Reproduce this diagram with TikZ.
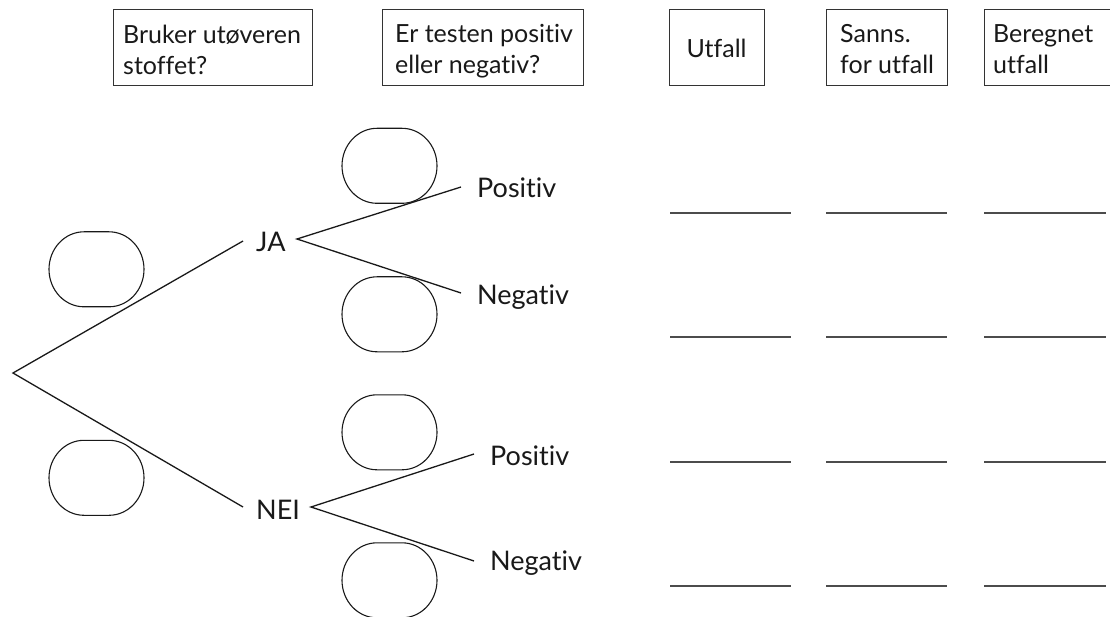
\documentclass[tikz,border=0pt]{standalone}
\usepackage{fontspec}
\setmainfont{Lato}[Ligatures={NoCommon,NoRare}]
\begin{document}
\begin{tikzpicture}[x=1pt,y=-1pt,
  hbox/.style={draw=black!80, line width=1.1pt, inner sep=0pt, anchor=north west},
  htext/.style={font=\fontsize{25}{31}\selectfont, inner sep=0pt, align=left, anchor=north west, text=black!90},
  lbl/.style={font=\fontsize{27}{32}\selectfont, inner sep=0pt, anchor=base west, text=black!90},
  oval/.style={minimum width=95pt, minimum height=75pt, inner sep=0pt},
  ovalline/.style={draw=black!90, line width=1.1pt},
  branch/.style={draw=black!90, line width=1.3pt},
  blank/.style={draw=black!70, line width=2pt}]
\useasboundingbox (0,0) rectangle (1110,617);
\clip (0,0) rectangle (1110,617);
% header boxes
\node[hbox, minimum width=199pt, minimum height=76pt] (h1) at (113,9) {};
\node[htext] (t1) at (123,24.5) {Bruker utøveren\\stoffet?};
\node[hbox, minimum width=201pt, minimum height=76pt] (h2) at (382,9) {};
\node[htext] (t2) at (395,24.5) {Er testen positiv\\eller negativ?};
\node[hbox, minimum width=95pt, minimum height=76pt] (h3) at (669,9) {};
\node[htext, anchor=base] (t3) at (716.5,58) {Utfall};
\node[hbox, minimum width=121pt, minimum height=76pt] (h4) at (826,9) {};
\node[htext] (t4) at (840,24.5) {Sanns.\\for utfall};
\node[hbox, minimum width=141pt, minimum height=76pt] (h5) at (984,9) {};
\node[htext] (t5) at (993,24.5) {Beregnet\\utfall};
% ovals
\node[oval] (o1) at (96.5,269.5) {};
\node[oval] (o2) at (96.5,478) {};
\node[oval] (o3) at (389.5,166) {};
\node[oval] (o4) at (389.5,314.5) {};
\node[oval] (o5) at (389.5,432.5) {};
\node[oval] (o6) at (389.5,580.5) {};
\foreach \o in {o1,o2,o3,o4,o5,o6}{
  \draw[ovalline] ([xshift=-12.5pt]\o.north) -- ([xshift=12.5pt]\o.north)
    arc[start angle=270,end angle=450,x radius=35,y radius=37.5] -- ++(-25,0)
    arc[start angle=90,end angle=270,x radius=35,y radius=37.5] -- cycle;
}
% labels
\node[lbl] (ja) at (256,252) {JA};
\node[lbl] (nei) at (256,519) {NEI};
\node[lbl] (p1) at (477,198) {Positiv};
\node[lbl] (n1) at (477,305) {Negativ};
\node[lbl] (p2) at (490,465) {Positiv};
\node[lbl] (n2) at (490,570) {Negativ};
% connector ends
\coordinate (root) at (13,373);
\coordinate (jaL) at (243,241);
\coordinate (jaR) at (297,239);
\coordinate (neiL) at (243,507);
\coordinate (neiR) at (311,507);
\coordinate (p1e) at (461,187);
\coordinate (n1e) at (461,293);
\coordinate (p2e) at (474,454);
\coordinate (n2e) at (474,561);
\draw[branch] (jaL) -- (root) -- (neiL);
\draw[branch] (p1e) -- (jaR) -- (n1e);
\draw[branch] (p2e) -- (neiR) -- (n2e);
% answer lines
\foreach \y in {213,337,462,586}{
  \draw[blank] (670,\y) -- (791,\y);
  \draw[blank] (826,\y) -- (947,\y);
  \draw[blank] (984,\y) -- (1106,\y);
}
\end{tikzpicture}
\end{document}
